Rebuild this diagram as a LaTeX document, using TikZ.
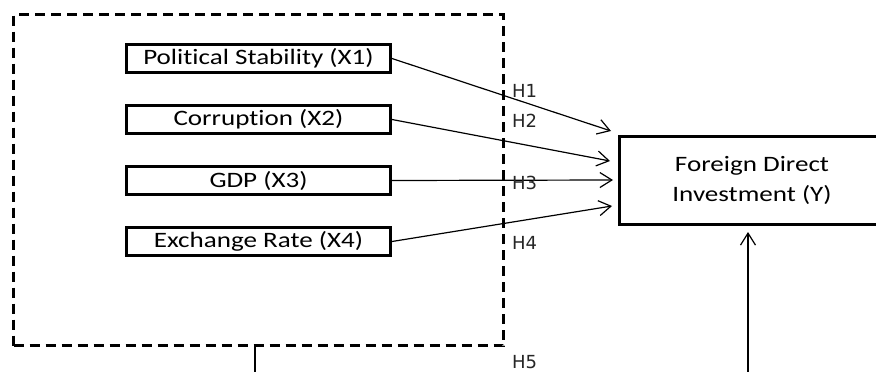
\documentclass[tikz,border=0pt]{standalone}
\usepackage{fontspec}
\setmainfont{Carlito}[FakeStretch=1.23,Ligatures=NoCommon]
\newfontfamily\hfont{DejaVu Sans}
\usetikzlibrary{arrows.meta}
\begin{document}
\begin{tikzpicture}[x=1pt,y=-1pt,
  varbox/.style={draw, line width=3pt, minimum width=264pt, minimum height=28pt, inner sep=0pt,
    font=\fontsize{22}{26}\selectfont},
  depbox/.style={draw, line width=3pt, minimum width=265pt, minimum height=88pt, inner sep=0pt,
    align=center, font=\fontsize{22}{30}\selectfont},
  grpbox/.style={draw, line width=3pt, dash pattern=on 10pt off 6pt, minimum width=490pt, minimum height=331pt, inner sep=0pt},
  hlab/.style={anchor=west, inner sep=0pt, font=\hfont\fontsize{18}{20}\selectfont, text=black!85},
  conn/.style={line width=1.2pt, -{Straight Barb[length=12pt,width=15pt,line width=1.2pt]}},
  plain/.style={line width=1.2pt}
]
\useasboundingbox (0,0) rectangle (876,372);
\clip (0,0) rectangle (876,372);
\node[grpbox] (grp) at (258.5,180) {};
\node[varbox] (x1) at (258.5,58.5) {Political Stability (X1)};
\node[varbox] (x2) at (258.5,119.5) {Corruption (X2)};
\node[varbox] (x3) at (258.5,180.5) {GDP (X3)};
\node[varbox] (x4) at (258.5,241.5) {Exchange Rate (X4)};
\node[depbox] (y) at (752,180.5) {Foreign Direct\\Investment (Y)};
\coordinate (t1) at (611,131);
\coordinate (t2) at (610,161);
\coordinate (t3) at (613,180);
\coordinate (t4) at (612,206);
\draw[conn] (x1.east) -- (t1);
\draw[conn] (x2.east) -- (t2);
\draw[conn] (x3.east) -- (t3);
\draw[conn] (x4.east) -- (t4);
\node[hlab] (h1) at (512,91) {H1};
\node[hlab] (h2) at (512,121) {H2};
\node[hlab] (h3) at (512,183) {H3};
\node[hlab] (h4) at (512,243) {H4};
\node[hlab] (h5) at (512,362) {H5};
\coordinate (b1) at (255,380);
\coordinate (b2) at (748,380);
\draw[plain] (b1 |- grp.south) -- (b1);
\draw[conn, shorten >=6pt] (b2) -- (b2 |- y.south);
\end{tikzpicture}
\end{document}
